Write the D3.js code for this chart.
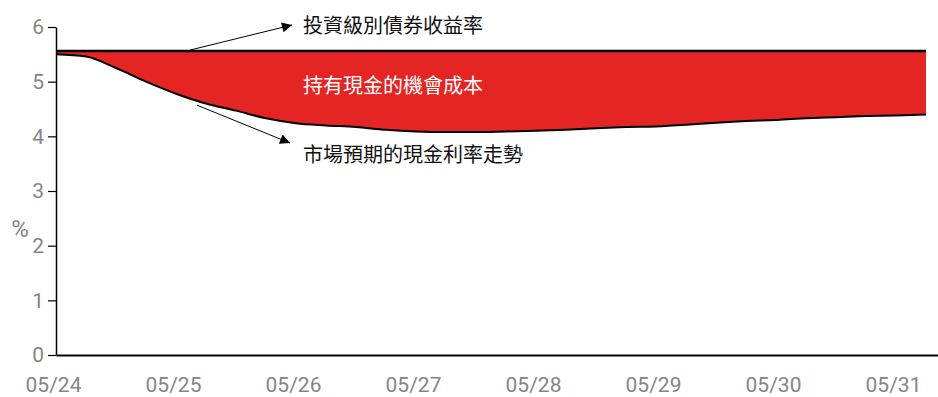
<!DOCTYPE html>
<html>
<head>
<meta charset="utf-8">
<script src="https://cdn.jsdelivr.net/npm/d3@7/dist/d3.min.js"></script>
<style>
  html, body { margin: 0; padding: 0; background: #fff; }
  svg { display: block; }
</style>
</head>
<body>
<svg id="chart" width="938" height="397"></svg>
<script>
// Year labels along the bottom (one per year, starting at the origin)
const xTickLabels = ["05/24", "05/25", "05/26", "05/27", "05/28", "05/29", "05/30", "05/31"];
// Y-axis ticks (%)
const yTicks = [0, 1, 2, 3, 4, 5, 6];

// Quarterly steps, in years from the start of the axis
const quarters = d3.range(0, 30).map(i => i * 0.25);

// Investment-grade bond yield (flat)
const bondYield = quarters.map(() => 5.56);

// Market-implied cash rate path
const cashRate = [
  5.50, 5.46, 5.25, 5.00, 4.78, 4.60, 4.47, 4.33, 4.24, 4.20,
  4.17, 4.12, 4.09, 4.08, 4.08, 4.09, 4.10, 4.12, 4.15, 4.17,
  4.18, 4.21, 4.25, 4.28, 4.30, 4.33, 4.35, 4.37, 4.38, 4.40
];

const labels = {
  bond: "投資級別債券收益率",
  gap: "持有現金的機會成本",
  cash: "市場預期的現金利率走勢",
  unit: "%"
};

const svg = d3.select("#chart");
const m = { left: 56, right: 938, top: 27, bottom: 355 };

const x = d3.scaleLinear().domain([0, 7.35]).range([m.left, m.right]);
const y = d3.scaleLinear().domain([0, 6]).range([m.bottom, m.top]);

const rows = quarters.map((q, i) => ({ t: q, hi: bondYield[i], lo: cashRate[i] }));

const grey = "#858585";
const latin = "Roboto, 'Liberation Sans', sans-serif";
const cjk = "'Noto Sans CJK TC', 'Noto Sans CJK SC', sans-serif";

const defs = svg.append("defs");
defs.append("clipPath").attr("id", "plot")
  .append("rect").attr("x", m.left).attr("y", 0).attr("width", m.right - m.left).attr("height", m.bottom);

const g = svg.append("g").attr("clip-path", "url(#plot)");

// Gap between the two rates
g.append("path")
  .datum(rows)
  .attr("fill", "#e42523")
  .attr("d", d3.area()
    .x(d => x(d.t))
    .y0(d => y(d.lo))
    .y1(d => y(d.hi))
    .curve(d3.curveMonotoneX));

// Cash-rate line
g.append("path")
  .datum(rows)
  .attr("fill", "none")
  .attr("stroke", "#000")
  .attr("stroke-width", 2)
  .attr("d", d3.line().x(d => x(d.t)).y(d => y(d.lo)).curve(d3.curveMonotoneX));

// Bond-yield line
g.append("path")
  .datum(rows)
  .attr("fill", "none")
  .attr("stroke", "#000")
  .attr("stroke-width", 2.5)
  .attr("d", d3.line().x(d => x(d.t)).y(d => y(d.hi)));

// Y axis
const yAxis = svg.append("g")
  .attr("transform", `translate(${m.left},0)`)
  .call(d3.axisLeft(y).tickValues(yTicks).tickFormat(d3.format("d")).tickSize(8).tickSizeOuter(0).tickPadding(4));
yAxis.select(".domain").attr("stroke", "#000").attr("stroke-width", 1.5);
yAxis.selectAll(".tick line").attr("stroke", "#000").attr("stroke-width", 1.2);
yAxis.selectAll("text").attr("fill", grey).style("font-family", latin).style("font-size", "21px");

// X axis
const xAxis = svg.append("g")
  .attr("transform", `translate(0,${m.bottom})`)
  .call(d3.axisBottom(x).tickValues(d3.range(xTickLabels.length))
    .tickFormat(i => xTickLabels[i]).tickSize(0).tickSizeOuter(0).tickPadding(22));
xAxis.select(".domain").attr("stroke", "#000").attr("stroke-width", 2);
xAxis.selectAll("text").attr("fill", grey).attr("dx", -3)
  .style("font-family", latin).style("font-size", "21px");

// Unit label
svg.append("text")
  .attr("x", 20).attr("y", 237)
  .attr("text-anchor", "middle")
  .attr("fill", grey)
  .style("font-family", latin).style("font-size", "24px")
  .text(labels.unit);

// Arrow heads
defs.append("marker")
  .attr("id", "arrow")
  .attr("viewBox", "0 0 10 10")
  .attr("refX", 10).attr("refY", 5)
  .attr("markerWidth", 14).attr("markerHeight", 10)
  .attr("markerUnits", "userSpaceOnUse")
  .attr("orient", "auto")
  .append("path").attr("d", "M0,0 L10,5 L0,10 Z").attr("fill", "#000");

// Callout to the bond-yield line
svg.append("line")
  .attr("x1", x(1.117)).attr("y1", y(5.56) - 1)
  .attr("x2", 292).attr("y2", 25)
  .attr("stroke", "#000").attr("stroke-width", 1)
  .attr("marker-end", "url(#arrow)");

// Callout to the cash-rate line
svg.append("line")
  .attr("x1", x(1.175)).attr("y1", y(4.57))
  .attr("x2", 290).attr("y2", 143)
  .attr("stroke", "#000").attr("stroke-width", 1)
  .attr("marker-end", "url(#arrow)");

// Text annotations
const note = (txt, ty, col) => svg.append("text")
  .attr("x", 303).attr("y", ty)
  .attr("dominant-baseline", "central")
  .attr("fill", col)
  .style("font-family", cjk).style("font-size", "20px")
  .text(txt);
note(labels.bond, 24, "#111");
note(labels.gap, 84, "#fff");
note(labels.cash, 153, "#111");
</script>
</body>
</html>
